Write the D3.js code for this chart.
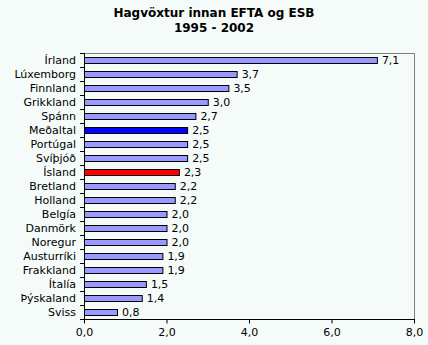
<!DOCTYPE html>
<html>
<head>
<meta charset="utf-8">
<script src="https://cdn.jsdelivr.net/npm/d3@7"></script>
<style>
  html, body { margin: 0; padding: 0; background: #F5FBF8; }
  svg { display: block; }
  text { font-family: "DejaVu Sans", Verdana, sans-serif; fill: #000; }
</style>
</head>
<body>
<svg id="chart" width="428" height="345"></svg>
<script>
// Hagvöxtur 1995-2002, meðalvöxtur á ári (%)
const countries = ["Írland", "Lúxemborg", "Finnland", "Grikkland", "Spánn", "Meðaltal",
  "Portúgal", "Svíþjóð", "Ísland", "Bretland", "Holland", "Belgía", "Danmörk",
  "Noregur", "Austurríki", "Frakkland", "Ítalía", "Þýskaland", "Sviss"];
const growth = [7.1, 3.7, 3.5, 3.0, 2.7, 2.5, 2.5, 2.5, 2.3, 2.2, 2.2, 2.0, 2.0,
  2.0, 1.9, 1.9, 1.5, 1.4, 0.8];
const xTicks = [0, 2, 4, 6, 8];
const titleLines = ["Hagvöxtur innan EFTA og ESB", "1995 - 2002"];

const highlight = { "Meðaltal": "#0000FF", "Ísland": "#FF0000" };
const barFill = "#9999FF";

const svg = d3.select("#chart");
const margin = { top: 53, right: 14, bottom: 26, left: 84 };
const W = 428, H = 345;
const x0 = margin.left, x1 = W - margin.right;
const y0 = margin.top, y1 = H - margin.bottom;

const fmt = v => d3.format(".1f")(v).replace(".", ",");

const x = d3.scaleLinear().domain([0, 8]).range([x0, x1]);
const y = d3.scaleBand().domain(countries).range([y0, y1]).paddingInner(0.5).paddingOuter(0.25);
const yb = d3.scaleBand().domain(countries).range([y0, y1]);

// title
svg.append("g").selectAll("text").data(titleLines).join("text")
  .attr("x", W / 2).attr("y", (d, i) => 17 + i * 15)
  .attr("text-anchor", "middle")
  .attr("font-size", 12).attr("font-weight", "bold")
  .text(d => d);

// plot frame (top and right in grey)
svg.append("path")
  .attr("d", `M${x0},${y0 + 0.5}H${x1 + 0.5}V${y1}`)
  .attr("fill", "none").attr("stroke", "#808080");

// bars
svg.append("g").selectAll("rect").data(countries).join("rect")
  .attr("x", x(0) + 0.5)
  .attr("y", d => Math.round(y(d)) + 0.5)
  .attr("width", (d, i) => x(growth[i]) - x(0))
  .attr("height", Math.round(y.bandwidth()) - 1)
  .attr("fill", d => highlight[d] || barFill)
  .attr("stroke", "#000").attr("stroke-width", 1);

// value labels
svg.append("g").selectAll("text").data(countries).join("text")
  .attr("x", (d, i) => x(growth[i]) + 5)
  .attr("y", d => y(d) + y.bandwidth() / 2)
  .attr("dy", "0.36em")
  .attr("font-size", 11)
  .text((d, i) => fmt(growth[i]));

// category axis: ticks at band boundaries
const gy = svg.append("g");
const bounds = countries.map(c => yb(c)).concat([y1]);
gy.append("g").selectAll("line").data(bounds).join("line")
  .attr("x1", x0 - 4).attr("x2", x0)
  .attr("y1", d => Math.round(d) + 0.5).attr("y2", d => Math.round(d) + 0.5)
  .attr("stroke", "#000");
gy.append("line").attr("x1", x0 + 0.5).attr("x2", x0 + 0.5)
  .attr("y1", y0).attr("y2", y1 + 0.5).attr("stroke", "#000");
gy.append("g").selectAll("text").data(countries).join("text")
  .attr("x", x0 - 8)
  .attr("y", d => yb(d) + yb.bandwidth() / 2)
  .attr("dy", "0.36em")
  .attr("text-anchor", "end")
  .attr("font-size", 11)
  .text(d => d);

// value axis
const xAxis = d3.axisBottom(x).tickValues(xTicks).tickSize(4).tickPadding(5).tickFormat(fmt);
const gx = svg.append("g").attr("transform", `translate(0,${y1 + 0.5})`).call(xAxis);
gx.select(".domain").attr("stroke", "#000").attr("d", `M${x0},0H${x1 + 1}`);
gx.selectAll(".tick line").attr("stroke", "#000");
gx.selectAll(".tick text").attr("font-size", 11).attr("font-family", "DejaVu Sans, Verdana, sans-serif").attr("fill", "#000");
</script>
</body>
</html>
